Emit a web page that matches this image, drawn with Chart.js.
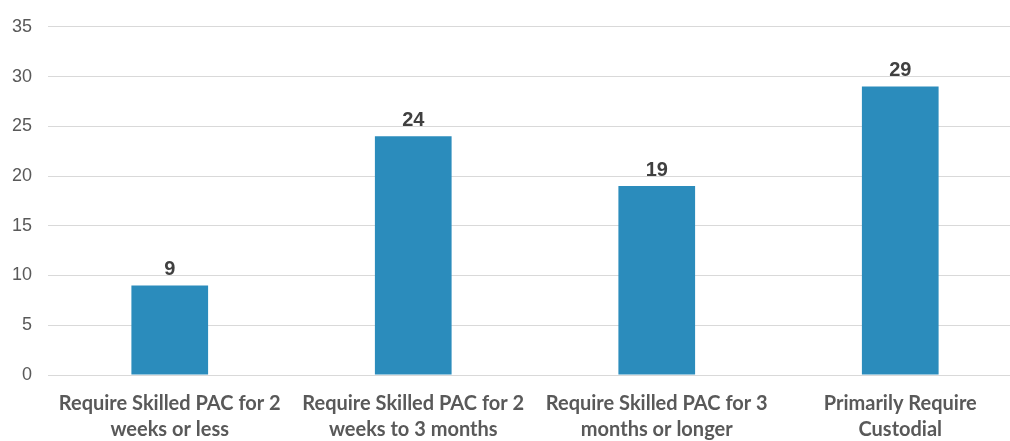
<!DOCTYPE html>
<html>
<head>
<meta charset="utf-8">
<script src="https://cdn.jsdelivr.net/npm/chart.js@4"></script>
<style>
  html, body { margin: 0; padding: 0; background: #fff; overflow: hidden; }
  #wrap { width: 1010px; height: 441px; overflow: hidden; }
  #box { width: 1022px; height: 441px; }
</style>
</head>
<body>
<div id="wrap"><div id="box"><canvas id="myChart"></canvas></div></div>
<script>
// categories and values
const kategorien = [
  ["Require Skilled PAC for 2", "weeks or less"],
  ["Require Skilled PAC for 2", "weeks to 3 months"],
  ["Require Skilled PAC for 3", "months or longer"],
  ["Primarily Require", "Custodial"]
];
const werte = [9, 24, 19, 29];
const yTicks = [0, 5, 10, 15, 20, 25, 30, 35];

// numbers above the bars
const wertLabels = {
  id: "wertLabels",
  afterDatasetsDraw(chart) {
    const ctx = chart.ctx;
    const meta = chart.getDatasetMeta(0);
    ctx.save();
    ctx.font = "bold 20px 'Liberation Sans', Arial, sans-serif";
    ctx.fillStyle = "#404040";
    ctx.textAlign = "center";
    ctx.textBaseline = "alphabetic";
    meta.data.forEach(function (bar, i) {
      ctx.fillText(werte[i], bar.x, bar.y - 10);
    });
    ctx.restore();
  }
};

const lineChart = document.getElementById("myChart");
let myChart = new Chart(lineChart, {
  type: "bar",
  data: {
    labels: kategorien,
    datasets: [{
      data: werte,
      backgroundColor: "#2b8cbc",
      categoryPercentage: 1,
      barPercentage: 0.315
    }]
  },
  options: {
    responsive: true,
    maintainAspectRatio: false,
    animation: false,
    layout: { padding: { top: 23, right: 0, left: 0, bottom: 0 } },
    plugins: { legend: { display: false }, tooltip: { enabled: false } },
    scales: {
      x: {
        grid: { display: false, drawTicks: false },
        border: { display: false },
        ticks: {
          color: "#595959",
          padding: 16,
          font: { family: "Lato", size: 20, weight: "bold", lineHeight: 1.3 },
          maxRotation: 0,
          autoSkip: false
        },
        afterFit(scale) { scale.height = 66; }
      },
      y: {
        min: 0,
        max: 35,
        afterBuildTicks(scale) { scale.ticks = yTicks.map(v => ({ value: v })); },
        grid: { color: "#d9d9d9", drawTicks: false },
        border: { display: false },
        ticks: {
          color: "#595959",
          padding: 16,
          font: { family: "'Liberation Sans', Arial", size: 18 }
        },
        afterFit(scale) { scale.width = 48; }
      }
    }
  },
  plugins: [wertLabels]
});
</script>
</body>
</html>
